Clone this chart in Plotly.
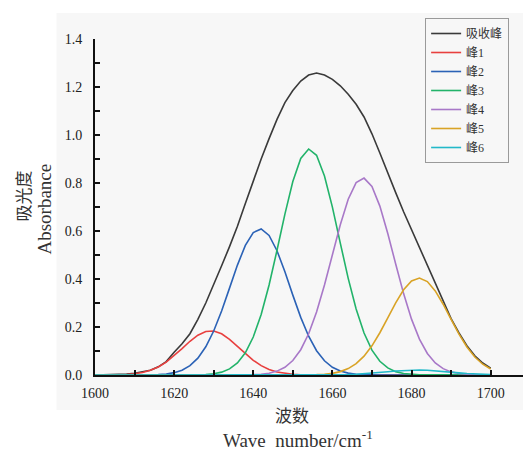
import plotly.graph_objects as go

wavenumber = list(range(1600, 1701, 2))

absorption = [0.0, 0.0005, 0.001, 0.002, 0.004, 0.007, 0.012, 0.02, 0.034, 0.056,
              0.095, 0.13, 0.172, 0.232, 0.30, 0.375, 0.455, 0.535, 0.62, 0.715,
              0.81, 0.90, 0.985, 1.065, 1.135, 1.185, 1.225, 1.25, 1.258, 1.25,
              1.232, 1.205, 1.17, 1.128, 1.075, 1.005, 0.925, 0.84, 0.76, 0.68,
              0.605, 0.535, 0.46, 0.385, 0.305, 0.235, 0.175, 0.122, 0.08, 0.05,
              0.028]

peak1 = [0.0, 0.0001, 0.0004, 0.001, 0.0023, 0.0051, 0.0103, 0.0194, 0.0336, 0.0539,
         0.0801, 0.1102, 0.1405, 0.1657, 0.181, 0.1831, 0.1715, 0.1488, 0.1195, 0.0889,
         0.0612, 0.039, 0.023, 0.0126, 0.0064, 0.003, 0.0013, 0.0005, 0.0002, 0.0001,
         0, 0, 0, 0, 0, 0, 0, 0, 0, 0,
         0, 0, 0, 0, 0, 0, 0, 0, 0, 0, 0]

peak2 = [0, 0, 0, 0, 0, 0.0001, 0.0003, 0.0007, 0.0019, 0.0044,
         0.0098, 0.0202, 0.039, 0.0701, 0.1174, 0.1833, 0.2667, 0.362, 0.458, 0.54,
         0.5937, 0.6085, 0.5814, 0.5178, 0.43, 0.3328, 0.2401, 0.1615, 0.1013, 0.0592,
         0.0323, 0.0164, 0.0078, 0.0034, 0.0014, 0.0005, 0.0002, 0.0001, 0, 0,
         0, 0, 0, 0, 0, 0, 0, 0, 0, 0, 0]

peak3 = [0, 0, 0, 0, 0, 0, 0, 0, 0, 0,
         0.0, 0.0001, 0.0003, 0.0008, 0.0022, 0.0053, 0.012, 0.0255, 0.0502, 0.0924,
         0.1583, 0.2524, 0.3752, 0.5196, 0.6704, 0.8059, 0.9025, 0.9417, 0.9154, 0.829,
         0.6994, 0.5498, 0.4027, 0.2748, 0.1747, 0.1034, 0.0571, 0.0294, 0.014, 0.0063,
         0.0026, 0.001, 0.0004, 0.0001, 0, 0, 0, 0, 0, 0, 0]

peak4 = [0, 0, 0, 0, 0, 0, 0, 0, 0, 0,
         0, 0, 0, 0, 0, 0, 0, 0, 0.0002, 0.0005,
         0.0014, 0.0033, 0.0076, 0.0162, 0.0323, 0.0603, 0.1053, 0.1718, 0.2623, 0.3748,
         0.5009, 0.6263, 0.7325, 0.8015, 0.8204, 0.7856, 0.7038, 0.5898, 0.4624, 0.3392,
         0.2327, 0.1494, 0.0897, 0.0504, 0.0265, 0.013, 0.006, 0.0026, 0.001, 0.0004,
         0.0001]

peak5 = [0, 0, 0, 0, 0, 0, 0, 0, 0, 0,
         0, 0, 0, 0, 0, 0, 0, 0, 0, 0,
         0, 0, 0, 0, 0, 0.0001, 0.0002, 0.0006, 0.0014, 0.0032,
         0.0069, 0.0141, 0.0267, 0.0474, 0.0786, 0.1217, 0.1761, 0.2381, 0.3008, 0.3552,
         0.3918, 0.404, 0.3892, 0.3503, 0.2948, 0.2317, 0.1702, 0.1168, 0.0749, 0.0449,
         0.0252]

peak6 = [0, 0, 0, 0, 0, 0, 0, 0, 0, 0,
         0, 0, 0, 0, 0, 0, 0, 0, 0, 0,
         0, 0, 0, 0, 0, 0, 0, 0, 0.0001, 0.0003,
         0.0006, 0.0011, 0.0019, 0.0032, 0.0051, 0.0075, 0.0104, 0.0135, 0.0166, 0.0191,
         0.0206, 0.021, 0.02, 0.0179, 0.0151, 0.0119, 0.0089, 0.0062, 0.0041, 0.0025,
         0.0014]

series_names = ["吸收峰", "峰1", "峰2", "峰3", "峰4", "峰5", "峰6"]
series_values = [absorption, peak1, peak2, peak3, peak4, peak5, peak6]
series_colors = ["#3a3a3a", "#e8403f", "#2b62b6", "#22b36a", "#a878c8", "#d9a326", "#22b9c9"]

x_tick_vals = [1600, 1620, 1640, 1660, 1680, 1700]
y_tick_vals = [0.0, 0.2, 0.4, 0.6, 0.8, 1.0, 1.2, 1.4]

SERIF = "'Liberation Serif', 'Times New Roman', serif"
CJK = "'Noto Sans CJK SC'"

fig = go.Figure()
for name, vals, col in zip(series_names, series_values, series_colors):
    fig.add_trace(go.Scatter(x=wavenumber, y=vals, mode="lines", name=name,
                             line=dict(color=col, width=1.6)))

# page is offset by the 8px body margin
OFF = 8
W, H = 531 - OFF, 450 - OFF
L, R, T, B = 94.5 - OFF, 0, 39 - OFF, 450 - 375
pw, ph = W - L - R, H - T - B

def px_x(p):  # page pixel -> paper coordinate
    return (p - OFF - L) / pw

def px_y(p):
    return (H - B - (p - OFF)) / ph

fig.add_shape(type="rect", xref="paper", yref="paper",
              x0=px_x(56), x1=px_x(545), y0=px_y(410), y1=px_y(13),
              fillcolor="#f7f7f7", line=dict(width=0), layer="below")

fig.update_layout(
    width=W, height=H,
    margin=dict(l=L, r=R, t=T, b=B, pad=0),
    paper_bgcolor="white",
    plot_bgcolor="rgba(0,0,0,0)",
    showlegend=True,
    legend=dict(x=px_x(425), y=px_y(18), xanchor="left", yanchor="top",
                bgcolor="#f7f7f7", bordercolor="#9a9a9a", borderwidth=1,
                font=dict(family=SERIF + ", " + CJK, size=12, color="#333"),
                tracegroupgap=0, itemwidth=30),
    xaxis=dict(range=[1600, 1710.2], tickvals=x_tick_vals,
               ticktext=[str(v) for v in x_tick_vals],
               showline=True, linecolor="#111", linewidth=2,
               ticks="inside", ticklen=5, tickwidth=1.5, tickcolor="#111",
               minor=dict(dtick=10, tick0=1600, ticks="inside", ticklen=5, tickwidth=1.5, tickcolor="#111"),
               showgrid=False, zeroline=False,
               tickfont=dict(family=SERIF, size=14, color="#222"),
               ticklabelstandoff=4),
    yaxis=dict(range=[0, 1.4], tickvals=y_tick_vals,
               ticktext=["%.1f" % v for v in y_tick_vals],
               showline=True, linecolor="#111", linewidth=2,
               ticks="inside", ticklen=5, tickwidth=1.5, tickcolor="#111",
               minor=dict(dtick=0.1, tick0=0, ticks="inside", ticklen=5, tickwidth=1.5, tickcolor="#111"),
               showgrid=False, zeroline=False,
               tickfont=dict(family=SERIF, size=14, color="#222"),
               ticklabelstandoff=8),
)

def label(text, xp, yp, fam, size, angle=0):
    fig.add_annotation(text=text, xref="paper", yref="paper",
                       x=px_x(xp), y=px_y(yp), xanchor="center", yanchor="middle",
                       textangle=angle, showarrow=False,
                       font=dict(family=fam, size=size, color="#333"))

label("吸光度", 21, 196, CJK, 17, -90)
label("Absorbance", 43, 209, SERIF, 19, -90)
label("波数", 292, 414, CJK, 17)
label("Wave&nbsp; number/cm<sup>-1</sup>", 298, 439, SERIF, 19)

fig.write_html("out.html")
